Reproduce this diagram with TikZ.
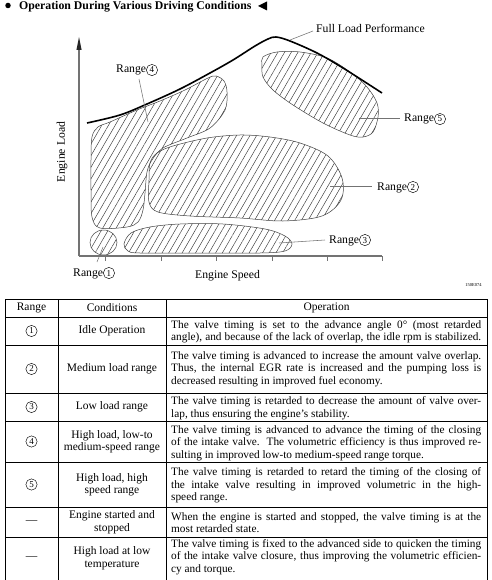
\documentclass[tikz,border=0pt]{standalone}
\usepackage{fontspec}
\setmainfont{Liberation Serif}
\usetikzlibrary{patterns.meta,arrows.meta}
\newcommand\cnum[1]{\tikz[baseline=(cn.base)]\node[circle,draw,line width=0.45pt,minimum size=11.3pt,inner sep=0pt,font=\fontsize{9}{9}\selectfont](cn){#1};}
\newcommand\jl[1]{\makebox[310pt][s]{#1}}
\begin{document}
\begin{tikzpicture}[x=1pt,y=-1pt,
  blob/.style={draw=black!75,line width=0.5pt,pattern={Lines[angle=60,distance=5.8pt,line width=0.45pt]},pattern color=black!80},
  lbl/.style={inner sep=0pt,font=\fontsize{11.7}{12}\selectfont},
  leader/.style={draw=black!55,line width=0.55pt},
  axis/.style={draw=black!55,line width=1.1pt},
  grid/.style={draw=black,line width=0.8pt},
  optext/.style={align=left,inner sep=0pt,font=\fontsize{11.3}{12.5}\selectfont},
  cond/.style={align=center,inner sep=0pt,font=\fontsize{11.5}{12.5}\selectfont}]
\useasboundingbox (0,0) rectangle (491,580);
% title
\node[circle,fill,inner sep=0pt,minimum size=5.5pt] (bul) at (8,5.5) {};
\node[anchor=base west,inner sep=0pt,font=\bfseries\fontsize{11.8}{12}\selectfont] (title) at (19,9.5) {Operation During Various Driving Conditions};
\fill (258,6) -- (267,1.5) -- (267,10.5) -- cycle;
% blobs
\path[blob] plot[smooth cycle,tension=0.55] coordinates {(98,127) (110,122) (137,110) (160,101) (185,90) (208,78) (216,76) (224,81) (227,92) (225,110) (210,128) (187,138) (163,148) (152,160) (147,172) (145,193) (143,210) (138,222) (127,227) (100,228) (92,217) (91,190) (91,160) (92,137)};
\path[blob] plot[smooth cycle,tension=0.55] coordinates {(150,163) (157,153) (173,146) (207,138) (240,135) (270,137) (300,143) (328,156) (342,178) (341,200) (322,216) (283,221) (240,218) (190,216) (158,212) (149,202) (149,180)};
\path[blob] plot[smooth cycle,tension=0.55] coordinates {(124,244) (131,233) (150,227) (180,224) (223,224) (265,229) (285,236) (292,244) (285,251) (260,253) (200,253) (140,253) (128,251)};
\path[blob] plot[smooth cycle,tension=0.55] coordinates {(263,57) (277,52) (300,52) (327,58) (350,72) (367,87) (377,103) (378,117) (373,132) (363,137) (350,135) (323,123) (293,105) (273,90) (263,77) (262,65)};
\path[blob] (103.5,242.5) ellipse [x radius=13.5,y radius=12.5];
% axes
\coordinate (o) at (79,256);
\coordinate (ytop) at (79,37);
\coordinate (xend) at (382,256);
\draw[axis] (o) -- (79,48);
\fill[black!85] (ytop) -- (81.6,50) -- (76.4,50) -- cycle;
\draw[axis] (o) -- (xend);
\foreach \t in {105,161,216,272,327,382} \draw[draw=black!55,line width=0.9pt] (\t,256) -- (\t,260.5);
% full load curve
\draw[line width=1.6pt,black] plot[smooth,tension=0.55] coordinates {(87,123) (120,115) (147,104) (180,89) (210,73) (233,60) (255,46) (268,39) (276,37) (290,41) (317,53) (343,68) (382,93)};
% labels
\node[lbl,anchor=base west] (flp) at (316,33) {Full Load Performance};
\node[lbl,anchor=base west] (r4) at (116,73) {Range\cnum{4}};
\node[lbl,anchor=base west] (r5) at (404,122) {Range\cnum{5}};
\node[lbl,anchor=base west] (r2) at (377,190) {Range\cnum{2}};
\node[lbl,anchor=base west] (r3) at (329,243) {Range\cnum{3}};
\node[lbl,anchor=base west] (r1) at (73,276) {Range\cnum{1}};
\node[lbl,anchor=base west] (xs) at (195,278) {Engine Speed};
\node[lbl,rotate=90] (yl) at (62,152) {Engine Load};
\node[inner sep=0pt,font=\fontsize{4.5}{5}\selectfont] (code) at (473.5,285) {150E074};
% leaders
\coordinate (cf) at (290,40);
\coordinate (c4s) at (139,79);
\coordinate (c4e) at (148,122);
\coordinate (c5) at (359,118);
\coordinate (c2) at (330,186);
\coordinate (c3) at (279,243);
\coordinate (c1s) at (97,262);
\coordinate (c1e) at (103,247);
\draw[leader] (cf) -- (313,31);
\draw[leader] (c4s) -- (c4e);
\draw[leader] (c5) -- (400,118);
\draw[leader] (c2) -- (372,186);
\draw[leader] (c3) -- (325,240);
\draw[leader] (c1s) -- (c1e);
% table grid
\foreach \yy in {299,317,345,393,421,462,507,537} \draw[grid] (5,\yy) -- (487,\yy);
\foreach \xx in {5,58,166,487} \draw[grid] (\xx,299) -- (\xx,580);
% header
\node[cond] (h1) at (31.5,308) {Range};
\node[cond] (h2) at (112,308) {Conditions};
\node[cond] (h3) at (326.5,308) {Operation};
% range column
\node[cond] (n1) at (31.5,331) {\cnum{1}};
\node[cond] (n2) at (31.5,369) {\cnum{2}};
\node[cond] (n3) at (31.5,407) {\cnum{3}};
\node[cond] (n4) at (31.5,441.5) {\cnum{4}};
\node[cond] (n5) at (31.5,484.5) {\cnum{5}};
\node[cond] (n6) at (31.5,522) {—};
\node[cond] (n7) at (31.5,558) {—};
% conditions
\node[cond] (k1) at (112,331) {Idle Operation};
\node[cond] (k2) at (112,369) {Medium load range};
\node[cond] (k3) at (112,407) {Low load range};
\node[cond] (k4) at (112,441.5) {High load, low-to\\medium-speed range};
\node[cond] (k5) at (112,484.5) {High load, high\\speed range};
\node[cond] (k6) at (112,522) {Engine started and\\stopped};
\node[cond] (k7) at (112,558) {High load at low\\temperature};
% operation
\node[optext,anchor=west] (o1) at (171,332) {\jl{The valve timing is set to the advance angle 0° (most retarded}\\\jl{angle), and because of the lack of overlap, the idle rpm is stabilized.}};
\node[optext,anchor=west] (o2) at (171,369) {\jl{The valve timing is advanced to increase the amount valve overlap.}\\\jl{Thus, the internal EGR rate is increased and the pumping loss is}\\decreased resulting in improved fuel economy.};
\node[optext,anchor=west] (o3) at (171,408) {\jl{The valve timing is retarded to decrease the amount of valve over-}\\lap, thus ensuring the engine’s stability.};
\node[optext,anchor=west] (o4) at (171,443) {\jl{The valve timing is advanced to advance the timing of the closing}\\\jl{of the intake valve.\ \ The volumetric efficiency is thus improved re-}\\sulting in improved low-to medium-speed range torque.};
\node[optext,anchor=west] (o5) at (171,485.5) {\jl{The valve timing is retarded to retard the timing of the closing of}\\\jl{the intake valve resulting in improved volumetric in the high-}\\speed range.};
\node[optext,anchor=west] (o6) at (171,522.5) {\jl{When the engine is started and stopped, the valve timing is at the}\\most retarded state.};
\node[optext,anchor=west] (o7) at (171,557) {\jl{The valve timing is fixed to the advanced side to quicken the timing}\\\jl{of the intake valve closure, thus improving the volumetric efficien-}\\cy and torque.};
\end{tikzpicture}
\end{document}
